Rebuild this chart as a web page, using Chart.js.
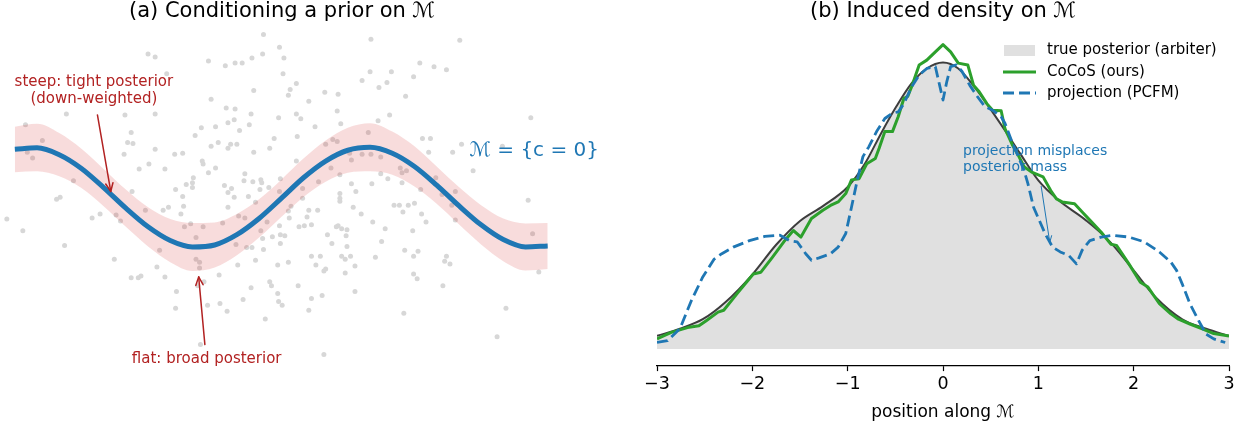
<!DOCTYPE html>
<html><head><meta charset="utf-8">
<script src="https://cdn.jsdelivr.net/npm/chart.js@4.4.1/dist/chart.umd.min.js"></script>
<style>
html,body{margin:0;padding:0;background:#fff;}
#wrap{position:relative;width:1250px;height:434px;overflow:hidden;background:#fff;}
canvas{position:absolute;top:0;}
#left{left:0;}
#right{left:600px;}
</style></head><body>
<div id="wrap"><canvas id="left" width="600" height="434"></canvas><canvas id="right" width="650" height="434"></canvas></div>
<script>
// ---------- Panel (a): prior samples and manifold ----------
const manifoldU = [-3,-2.75,-2.5,-2.25,-2,-1.75,-1.5,-1.25,-1,-0.75,-0.5,-0.25,0,0.25,0.5,0.75,1,1.25,1.5,1.75,2,2.25,2.5,2.75,3];
const manifoldC = [0.98,1.01,0.87,0.59,0.20,-0.22,-0.60,-0.88,-1.01,-0.97,-0.76,-0.43,-0.02,0.40,0.74,0.96,1.02,0.90,0.63,0.25,-0.17,-0.56,-0.86,-1.01,-0.99];
const bandUpper = [1.44,1.50,1.31,0.99,0.58,0.16,-0.20,-0.44,-0.52,-0.51,-0.34,-0.04,0.36,0.79,1.16,1.42,1.51,1.34,1.04,0.63,0.21,-0.16,-0.43,-0.53,-0.52];
const bandLower = [0.51,0.53,0.43,0.19,-0.18,-0.60,-1.00,-1.32,-1.50,-1.43,-1.18,-0.82,-0.40,0.01,0.32,0.50,0.53,0.46,0.22,-0.13,-0.55,-0.96,-1.30,-1.49,-1.46];
const priorSamples = [
[-1.50,2.92],[-1.42,2.86],[-1.29,2.52],[-2.42,1.70],[-1.76,1.68],[-1.42,1.70],[-2.88,1.48],[-1.69,1.32],[-0.97,1.26],[-0.90,1.42],
[-2.69,1.16],[-1.73,1.12],[-1.67,1.10],[-1.42,0.98],[-1.77,0.88],[-2.86,0.92],[-2.80,0.80],[-1.20,0.88],[-1.11,0.90],[-1.49,0.68],
[-1.60,0.58],[-1.31,0.58],[-0.99,0.40],[-1.00,0.30],[-1.07,0.26],[-1.00,0.20],[-2.34,0.34],[-1.68,0.12],[-1.19,0.16],[-1.11,0.02],
[-2.53,-0.04],[-2.49,0.00],
[-0.20,3.32],[1.01,3.22],[-0.02,3.06],[-0.21,2.92],[-0.33,2.84],[0.03,2.84],[-0.82,2.78],[-0.63,2.68],[-0.52,2.74],[-0.44,2.74],
[0.02,2.52],[1.00,2.56],[1.24,2.56],[0.91,2.38],[1.19,2.34],[0.17,2.32],[1.10,2.24],[-0.31,2.18],[0.10,2.20],[0.49,2.14],
[0.64,2.10],[0.08,2.08],[-0.79,2.00],[0.31,1.96],[-0.62,1.82],[-0.52,1.80],[0.63,1.76],[-0.34,1.70],[0.17,1.70],[1.22,1.68],
[-0.03,1.62],[0.22,1.60],[-0.53,1.58],[-0.60,1.52],[-0.36,1.48],[0.67,1.50],[1.09,1.56],[-0.74,1.44],[0.38,1.44],[-0.47,1.36],
[0.18,1.24],[-0.08,1.20],[0.98,1.32],[-0.71,1.12],[-0.79,1.04],[-0.57,1.08],[-0.50,1.08],[0.50,1.08],[0.58,1.18],[0.63,1.14],
[-0.60,1.00],[-0.13,1.00],[-0.31,0.92],[0.77,0.90],[0.91,0.88],[1.01,0.88],[0.79,0.76],[1.12,0.82],[-0.89,0.74],[-0.88,0.68],
[0.17,0.74],[-0.82,0.50],[-0.74,0.60],[0.56,0.60],[-0.41,0.48],[0.66,0.46],[1.12,0.48],[1.20,0.38],[-0.01,0.38],[-0.42,0.34],
[-0.32,0.32],[-0.23,0.36],[-0.22,0.30],[0.42,0.32],[0.79,0.28],[1.02,0.28],[-0.64,0.24],[-0.56,0.18],[-0.60,0.10],[-0.24,0.16],
[-0.14,0.20],[0.24,0.18],[0.84,0.12],[-0.02,0.12],[0.66,0.08],[-0.37,0.02],[0.24,-0.02],[0.66,-0.02],[-0.53,0.00],
[2.01,3.20],[1.56,2.74],[1.72,2.66],[1.86,2.60],[1.49,2.46],[1.40,2.06],[2.81,1.62],[1.59,1.20],[1.68,1.20],[2.03,1.08],
[2.49,1.04],[1.66,0.92],[1.93,0.92],[2.16,0.54],[1.34,0.60],[1.36,0.50],[1.41,0.54],[1.36,0.30],[1.74,0.40],[1.57,0.16],
[1.96,0.12],[1.81,0.06],[2.78,-0.06],
[-3.09,-0.44],[-2.91,-0.68],[-2.44,-0.98],[-2.13,-0.42],[-2.04,-0.34],[-1.86,-0.36],[-1.81,-0.48],[-1.53,-0.26],[-1.33,-0.26],[-1.27,-0.20],
[-1.10,-0.18],[-1.13,-0.34],[-1.09,-0.60],[-1.02,-0.54],[-0.96,-0.82],[-1.37,-1.08],[-1.88,-1.26],[-0.96,-1.26],[-0.92,-1.32],[-0.92,-1.44],
[-1.40,-1.42],[-1.69,-1.64],[-1.61,-1.64],[-1.58,-1.60],[-1.31,-1.62],[-1.18,-1.92],[-1.19,-2.26],[-0.94,-1.80],[-0.91,-3.00],
[-0.60,-0.20],[-0.29,-0.10],[0.66,-0.08],[0.81,-0.20],[0.90,-0.34],[1.27,-0.16],[0.08,-0.28],[0.11,-0.18],[0.31,-0.26],[0.41,-0.26],
[0.29,-0.40],[0.09,-0.42],[-0.48,-0.38],[-0.41,-0.42],[-0.66,-0.52],[-0.16,-0.50],[-0.02,-0.58],[0.20,-0.60],[0.26,-0.58],[0.34,-0.56],
[0.62,-0.60],[0.64,-0.58],[0.68,-0.64],[0.74,-0.66],[1.03,-0.50],[1.17,-0.64],[-0.88,-0.60],[-0.23,-0.68],[-0.10,-0.80],[-0.01,-0.76],
[0.04,-0.78],[-0.21,-0.84],[0.52,-0.76],[0.73,-0.78],[-0.51,-0.96],[-0.39,-1.02],[-0.33,-1.02],[-0.01,-0.94],[0.57,-0.94],[0.74,-1.00],
[1.13,-0.90],[-0.20,-1.06],[0.34,-1.20],[0.44,-1.20],[0.68,-1.20],[0.72,-1.26],[0.78,-1.20],[1.06,-1.22],[-0.29,-1.28],[0.08,-1.32],
[-0.49,-1.38],[-0.04,-1.38],[0.39,-1.38],[0.50,-1.46],[0.48,-1.50],[0.72,-1.54],[0.83,-1.40],[-0.70,-1.58],[-0.87,-1.72],[-0.13,-1.72],
[-0.11,-1.80],[-0.34,-1.84],[0.19,-1.80],[0.83,-1.92],[-0.04,-1.96],[0.46,-2.00],[0.34,-2.06],[-0.43,-2.08],[-0.03,-2.12],[0.01,-2.20],
[-0.69,-2.16],[-0.83,-2.20],[-0.61,-2.32],[0.31,-2.30],[-0.18,-2.48],[0.48,-3.20],
[1.33,-0.16],[1.43,-0.16],[1.50,-0.12],[1.37,-0.30],[1.58,-0.34],[1.63,-0.50],[1.92,-0.16],[1.96,-0.46],[1.48,-0.68],[2.83,-0.74],
[1.39,-1.08],[1.49,-1.20],[1.54,-1.10],[1.86,-1.20],[1.84,-1.30],[1.90,-1.36],[2.90,-1.52],[1.49,-1.56],[1.53,-1.66],[1.82,-1.80],
[2.53,-2.26],[1.38,-2.36],[2.43,-2.84]
];

// ---------- Panel (b): induced density along the manifold ----------
const trueX = [-3,-2.76,-2.52,-2.28,-2,-1.75,-1.5,-1.26,-1,-0.82,-0.65,-0.49,-0.33,-0.17,0,0.16,0.33,0.48,0.65,0.81,1,1.21,1.5,1.74,2,2.23,2.51,2.76,3];
const trueDensity = [0.022,0.034,0.050,0.079,0.125,0.175,0.215,0.240,0.272,0.311,0.362,0.407,0.446,0.471,0.481,0.471,0.440,0.407,0.367,0.328,0.283,0.250,0.216,0.182,0.132,0.087,0.050,0.034,0.022];
const cocosX = [-3.00,-2.85,-2.68,-2.56,-2.48,-2.36,-2.30,-2.16,-1.99,-1.91,-1.79,-1.67,-1.57,-1.49,-1.38,-1.26,-1.18,-1.10,-1.02,-0.96,-0.88,-0.80,-0.71,-0.67,-0.61,-0.53,-0.47,-0.41,-0.37,-0.33,-0.25,-0.17,-0.08,0.00,0.08,0.16,0.26,0.32,0.38,0.46,0.52,0.61,0.65,0.73,0.79,0.85,0.93,1.05,1.13,1.19,1.25,1.38,1.46,1.56,1.66,1.76,1.82,1.95,2.07,2.15,2.27,2.39,2.47,2.59,2.72,2.84,3.00];
const cocosDensity = [0.017,0.028,0.036,0.039,0.048,0.062,0.065,0.093,0.126,0.129,0.154,0.180,0.199,0.188,0.219,0.233,0.241,0.247,0.261,0.284,0.286,0.311,0.320,0.337,0.365,0.365,0.390,0.421,0.424,0.440,0.477,0.485,0.499,0.511,0.499,0.480,0.477,0.443,0.432,0.412,0.401,0.400,0.370,0.342,0.325,0.306,0.297,0.289,0.266,0.252,0.247,0.244,0.230,0.213,0.196,0.176,0.174,0.143,0.112,0.104,0.076,0.059,0.050,0.042,0.034,0.026,0.022];
const pcfmX = [-3.00,-2.89,-2.76,-2.64,-2.52,-2.40,-2.32,-2.20,-2.03,-1.87,-1.71,-1.61,-1.53,-1.44,-1.38,-1.30,-1.18,-1.10,-1.02,-0.96,-0.90,-0.84,-0.78,-0.69,-0.61,-0.53,-0.47,-0.41,-0.33,-0.25,-0.17,-0.08,-0.04,0.00,0.04,0.08,0.14,0.20,0.28,0.36,0.44,0.52,0.61,0.65,0.73,0.79,0.85,0.89,0.95,1.01,1.07,1.15,1.23,1.32,1.40,1.46,1.54,1.66,1.78,1.95,2.11,2.27,2.39,2.45,2.51,2.59,2.68,2.76,2.84,2.96];
const pcfmDensity = [0.011,0.014,0.034,0.081,0.121,0.151,0.160,0.171,0.182,0.189,0.191,0.182,0.180,0.160,0.149,0.153,0.160,0.171,0.194,0.238,0.283,0.323,0.339,0.367,0.387,0.396,0.398,0.412,0.440,0.460,0.471,0.474,0.446,0.418,0.449,0.474,0.477,0.466,0.443,0.424,0.407,0.401,0.390,0.379,0.345,0.323,0.300,0.278,0.238,0.216,0.194,0.171,0.163,0.157,0.143,0.166,0.182,0.188,0.191,0.188,0.180,0.163,0.146,0.132,0.109,0.076,0.048,0.025,0.017,0.011];
const xTicks = [-3,-2,-1,0,1,2,3];
const legendLabels = ['true posterior (arbiter)','CoCoS (ours)','projection (PCFM)'];

const FONT = '"DejaVu Sans", "Liberation Sans", sans-serif';
const RED = '#b22222', BLUE = '#1f77b4', GREEN = '#2ca02c';

function pts(xs, ys){ return xs.map((x,i)=>({x:x, y:ys[i]})); }

function arrow(ctx, x1, y1, x2, y2, color, lw, head){
  ctx.save();
  ctx.strokeStyle = color; ctx.lineWidth = lw; ctx.lineCap = 'round'; ctx.lineJoin='round';
  ctx.beginPath(); ctx.moveTo(x1,y1); ctx.lineTo(x2,y2); ctx.stroke();
  const a = Math.atan2(y2-y1, x2-x1);
  ctx.beginPath();
  ctx.moveTo(x2 - head*Math.cos(a-0.42), y2 - head*Math.sin(a-0.42));
  ctx.lineTo(x2, y2);
  ctx.lineTo(x2 - head*Math.cos(a+0.42), y2 - head*Math.sin(a+0.42));
  ctx.stroke();
  ctx.restore();
}
function text(ctx, s, x, y, size, color, align){
  ctx.save();
  ctx.font = size + 'px ' + FONT;
  ctx.fillStyle = color; ctx.textAlign = align || 'center'; ctx.textBaseline = 'middle';
  ctx.fillText(s, x, y);
  ctx.restore();
}

const leftDecor = {
  id: 'leftDecor',
  afterDraw(chart){
    const ctx = chart.ctx, sx = chart.scales.x, sy = chart.scales.y;
    const X = v => sx.getPixelForValue(v), Y = v => sy.getPixelForValue(v);
    text(ctx, '(a) Conditioning a prior on \u2133', 282, 12, 21, '#000');
    text(ctx, 'steep: tight posterior', X(-2.11), Y(2.34), 15, RED);
    text(ctx, '(down-weighted)', X(-2.11), Y(2.0), 15, RED);
    arrow(ctx, X(-2.07), Y(1.68), X(-1.92), Y(0.12), RED, 1.5, 9);
    text(ctx, 'flat: broad posterior', X(-0.84), Y(-3.3), 15, RED);
    arrow(ctx, X(-0.86), Y(-3.0), X(-0.93), Y(-1.62), RED, 1.5, 9);
    text(ctx, '\u2133 = {c = 0}', X(2.12), Y(0.94), 20, BLUE, 'left');
  }
};

new Chart(document.getElementById('left'), {
  type: 'scatter',
  data: { datasets: [
    { type:'line', data: pts(manifoldU, manifoldC), borderColor: BLUE, borderWidth: 5, pointRadius: 0,
      cubicInterpolationMode:'monotone', fill:false, order:0, borderCapStyle:'butt', borderJoinStyle:'round' },
    { type:'line', data: pts(manifoldU, bandUpper), borderColor:'rgba(0,0,0,0)', borderWidth:0, pointRadius:0,
      cubicInterpolationMode:'monotone', fill:'+1', backgroundColor:'rgba(214,39,40,0.16)', order:1 },
    { type:'line', data: pts(manifoldU, bandLower), borderColor:'rgba(0,0,0,0)', borderWidth:0, pointRadius:0,
      cubicInterpolationMode:'monotone', fill:false, order:1 },
    { type:'scatter', data: priorSamples.map(p=>({x:p[0], y:p[1]})), pointRadius:2.5, pointBackgroundColor:'#d7d7d7',
      pointBorderWidth:0, backgroundColor:'#d7d7d7', borderWidth:0, order:2 }
  ]},
  options: {
    responsive:false, animation:false, devicePixelRatio:1,
    layout:{ padding:0 },
    plugins:{ legend:{display:false}, tooltip:{enabled:false} },
    scales:{
      x:{ type:'linear', display:false, min:-3.122, max:3.544 },
      y:{ type:'linear', display:false, min:-4.74, max:3.94 }
    }
  },
  plugins:[leftDecor]
});

const rightDecor = {
  id: 'rightDecor',
  afterDraw(chart){
    const ctx = chart.ctx, sx = chart.scales.x, sy = chart.scales.y, ca = chart.chartArea;
    const X = v => sx.getPixelForValue(v), Y = v => sy.getPixelForValue(v);
    text(ctx, '(b) Induced density on \u2133', (ca.left+ca.right)/2, 12, 21, '#000');
    // legend
    const lx = 403, tx = 447;
    ctx.save();
    ctx.fillStyle = '#e0e0e0'; ctx.fillRect(lx+1, 45, 31, 11);
    ctx.strokeStyle = GREEN; ctx.lineWidth = 3; ctx.beginPath(); ctx.moveTo(lx, 72); ctx.lineTo(lx+33, 72); ctx.stroke();
    ctx.strokeStyle = BLUE; ctx.setLineDash([11,5]); ctx.beginPath(); ctx.moveTo(lx, 93); ctx.lineTo(lx+33, 93); ctx.stroke();
    ctx.restore();
    text(ctx, legendLabels[0], tx, 50.5, 15, '#000', 'left');
    text(ctx, legendLabels[1], tx, 72, 15, '#000', 'left');
    text(ctx, legendLabels[2], tx, 93, 15, '#000', 'left');
    // annotation
    text(ctx, 'projection misplaces', X(0.21), Y(0.332), 14, BLUE, 'left');
    text(ctx, 'posterior mass', X(0.21), Y(0.305), 14, BLUE, 'left');
    arrow(ctx, X(1.03), Y(0.273), X(1.12), Y(0.179), BLUE, 1, 7);
  }
};

new Chart(document.getElementById('right'), {
  type: 'scatter',
  data: { datasets: [
    { type:'line', label: legendLabels[2], data: pts(pcfmX, pcfmDensity), borderColor: BLUE, borderWidth: 2.8,
      borderDash:[11,5], pointRadius:0, tension:0, fill:false, order:0, borderJoinStyle:'round' },
    { type:'line', label: legendLabels[1], data: pts(cocosX, cocosDensity), borderColor: GREEN, borderWidth: 3,
      pointRadius:0, tension:0, fill:false, order:1, borderJoinStyle:'round' },
    { type:'line', label: legendLabels[0], data: pts(trueX, trueDensity), borderColor:'#3d3d3d', borderWidth:2,
      backgroundColor:'#e0e0e0', fill:'origin', cubicInterpolationMode:'monotone', pointRadius:0, order:2 }
  ]},
  options: {
    responsive:false, animation:false, devicePixelRatio:1,
    layout:{ padding:{ left:57, right:21, top:30, bottom:7.5 } },
    plugins:{ legend:{display:false}, tooltip:{enabled:false} },
    scales:{
      x:{ type:'linear', min:-3, max:3,
          afterBuildTicks: axis => { axis.ticks = xTicks.map(v => ({value:v})); },
          ticks:{ font:{family:FONT, size:17.5}, color:'#000', padding:3, maxRotation:0, autoSkip:false,
                  callback: v => (v < 0 ? '\u2212' + Math.abs(v) : String(v)) },
          grid:{ display:true, drawOnChartArea:false, drawTicks:true, tickLength:6, tickColor:'#000', tickWidth:1.2 },
          border:{ display:true, color:'#000', width:1.2 },
          title:{ display:true, text:'position along \u2133', font:{family:FONT, size:17}, color:'#000', padding:{top:4, bottom:4} }
      },
      y:{ type:'linear', display:false, min:-0.027, max:0.5356 }
    }
  },
  plugins:[rightDecor]
});
</script>
</body></html>
